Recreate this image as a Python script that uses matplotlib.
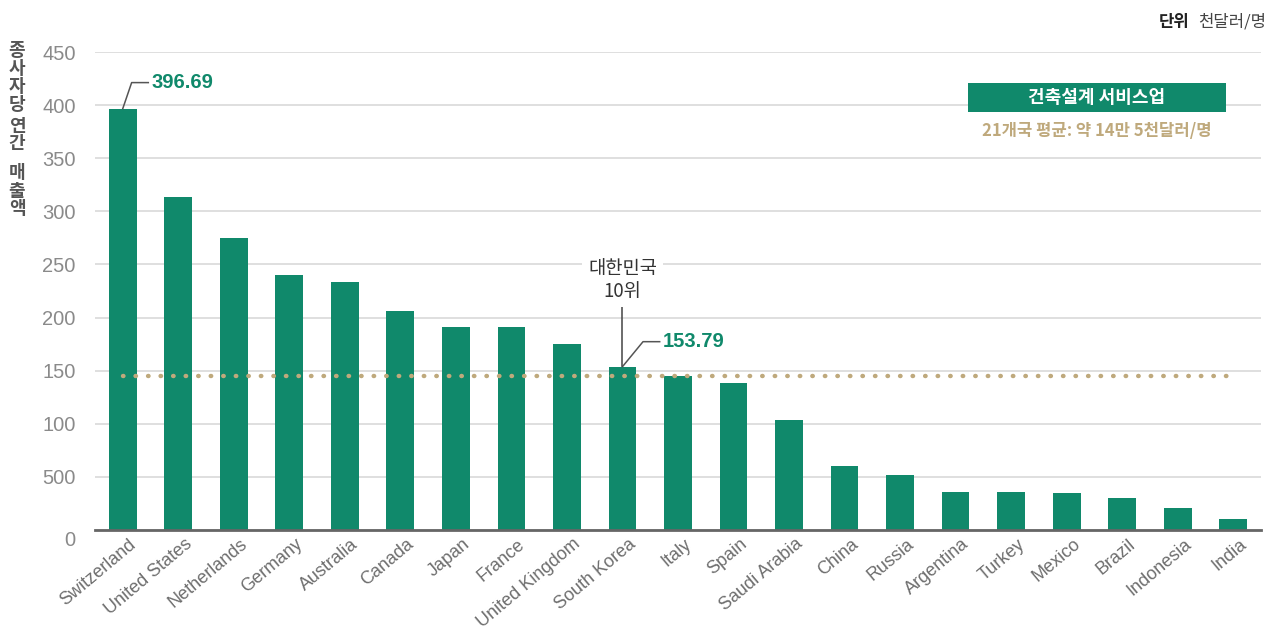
import matplotlib
matplotlib.use('Agg')
import matplotlib.pyplot as plt
import matplotlib.transforms as mtrans
from matplotlib.patches import Rectangle

plt.rcParams['font.family'] = ['Noto Sans CJK KR', 'DejaVu Sans']

# 데이터
countries = ['Switzerland', 'United States', 'Netherlands', 'Germany', 'Australia',
             'Canada', 'Japan', 'France', 'United Kingdom', 'South Korea', 'Italy',
             'Spain', 'Saudi Arabia', 'China', 'Russia', 'Argentina', 'Turkey',
             'Mexico', 'Brazil', 'Indonesia', 'India']
values = [396.69, 313.5, 275.0, 240.0, 233.5, 206.0, 191.0, 191.0, 175.0, 153.79,
          145.0, 138.5, 103.5, 60.5, 52.0, 36.0, 36.0, 35.0, 30.0, 20.5, 10.5]
average = 145
yticks = [0, 50, 100, 150, 200, 250, 300, 350, 400, 450]
ytick_labels = ['0', '500', '100', '150', '200', '250', '300', '350', '400', '450']

GREEN = '#10896b'
TAN = '#bfa97c'
GRID = '#d9d9d9'
LATIN = ['Liberation Sans', 'DejaVu Sans']

fig = plt.figure(figsize=(12.77, 6.33), dpi=100)
ax = fig.add_axes([95 / 1277, 1 - 530 / 633, (1261 - 95) / 1277, (530 - 52) / 633])

x = list(range(len(countries)))
ax.bar(x, values, width=0.5, color=GREEN, zorder=2)
ax.plot([0, len(countries) - 1], [average, average], color=TAN, linestyle=(0, (0.1, 2.72)),
        linewidth=3.2, dash_capstyle='round', zorder=3)

ax.set_xlim(-0.5, len(countries) - 0.5)
ax.set_ylim(0, 450)
ax.set_yticks(yticks)
ax.set_yticklabels(ytick_labels, family=LATIN)
ax.set_xticks(x)
ax.set_xticklabels(countries, rotation=40, ha='right', rotation_mode='anchor', family=LATIN)
ax.tick_params(axis='y', length=0, pad=14, labelsize=14.5, labelcolor='#8a8a8a')
ax.tick_params(axis='x', length=0, pad=4, labelsize=13, labelcolor='#6e6e6e')
shift = mtrans.ScaledTranslation(6 / 100, 0, fig.dpi_scale_trans)
for t in ax.get_xticklabels():
    t.set_transform(t.get_transform() + shift)
# 0 라벨은 조금 아래에
down = mtrans.ScaledTranslation(0, -8 / 100, fig.dpi_scale_trans)
zero_label = ax.get_yticklabels()[0]
zero_label.set_transform(zero_label.get_transform() + down)

ax.grid(axis='y', color=GRID, linewidth=1.2, zorder=0)
for s in ['top', 'right', 'left']:
    ax.spines[s].set_visible(False)
ax.spines['bottom'].set_color('#666666')
ax.spines['bottom'].set_linewidth(2)
ax.spines['bottom'].set_zorder(4)

# 값 라벨
def value_label(i, v, dx, dy, text):
    ax.plot([i, i + dx, i + dx + 0.3], [v, v + dy, v + dy], color='#555555', lw=1.1, zorder=3)
    ax.text(i + dx + 0.36, v + dy, text, color=GREEN, fontsize=14.5, fontweight='bold',
            va='center', ha='left', family=LATIN)

value_label(0, values[0], 0.16, 24.5, '396.69')
value_label(9, values[9], 0.37, 23.5, '153.79')

# 대한민국 표시
ax.plot([9, 9], [values[9] + 1, 216.5], color='#444444', lw=1.1, zorder=3)
ax.text(9, 235.5, '대한민국\n10위', ha='center', va='center', fontsize=13.5, color='#333333',
        fontweight='medium', linespacing=1.1,
        bbox=dict(facecolor='white', edgecolor='none', pad=4), zorder=4)

# 범례
fig.patches.append(Rectangle((968 / 1277, 1 - 112 / 633), (1226 - 968) / 1277, 29 / 633,
                             transform=fig.transFigure, facecolor=GREEN, edgecolor='none'))
fig.text(1097 / 1277, 1 - 97.5 / 633, '건축설계 서비스업', color='white', fontsize=13,
         fontweight='bold', ha='center', va='center')
fig.text(1097 / 1277, 1 - 131 / 633, '21개국 평균: 약 14만 5천달러/명', color=TAN, fontsize=12,
         fontweight='bold', ha='center', va='center')

# 단위
fig.text(1266 / 1277, 1 - 22 / 633, '천달러/명', color='#444444', fontsize=12,
         ha='right', va='center')
fig.text(1190 / 1277, 1 - 22 / 633, '단위', color='#222222', fontsize=12,
         fontweight='bold', ha='right', va='center')

# y축 제목 (세로 글자)
ylabel_chars = ['종', '사', '자', '당', '연', '간', '매', '출', '액']
ylabel_pos = [50, 68, 87, 105, 126, 144, 173, 191, 209]
for ch, yp in zip(ylabel_chars, ylabel_pos):
    fig.text(17 / 1277, 1 - yp / 633, ch, color='#555555', fontsize=13, fontweight='bold',
             ha='center', va='center')

fig.savefig('out.png', dpi=100)
